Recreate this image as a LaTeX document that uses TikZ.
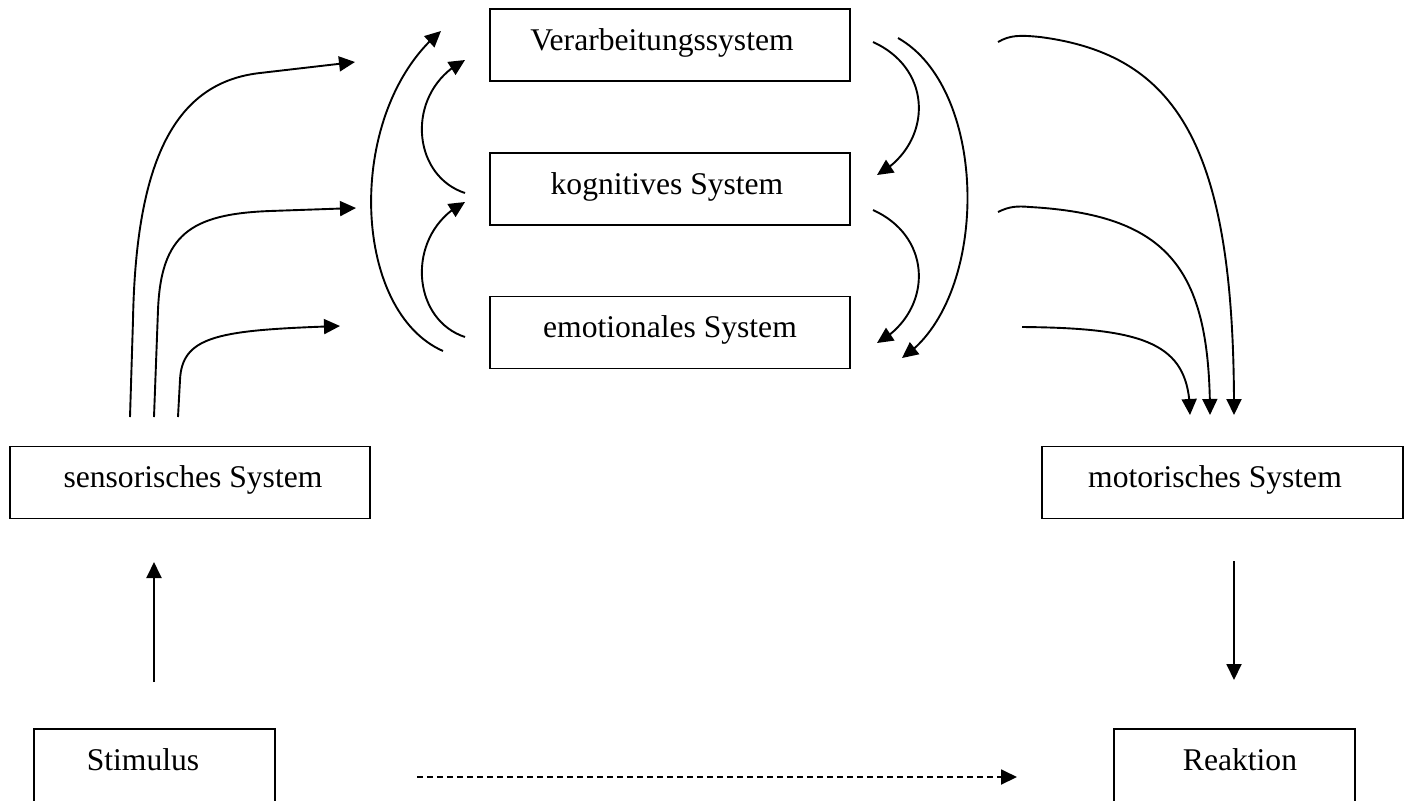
\documentclass[tikz,border=0pt]{standalone}
\usepackage{fontspec}
\setmainfont{Liberation Serif}
\usetikzlibrary{arrows.meta,bending}
\begin{document}
\begin{tikzpicture}[x=0.5pt,y=-0.5pt,
  sysbox/.style={draw, line width=0.9pt, minimum width=180pt, inner sep=0pt,
    text height=20.5pt, text depth=15.5pt, font=\fontsize{15.8pt}{19pt}\selectfont},
  smallbox/.style={sysbox, minimum width=120.5pt, text depth=19.5pt},
  conn/.style={line width=0.95pt, -{Triangle[length=8pt,width=7.5pt,flex]}},
  dashconn/.style={conn, dash pattern=on 3pt off 2pt}
]
\useasboundingbox (0,0) rectangle (1410,800);
\clip (0,0) rectangle (1410,800);

% boxes
\node[sysbox] (verb) at (670,45) {Verarbeitungssystem\hspace*{8pt}};
\node[sysbox] (kog) at (670,189) {kognitives System\hspace*{3pt}};
\node[sysbox] (emo) at (670,332.5) {emotionales System};
\node[sysbox] (sens) at (190,482.5) {\hspace*{3pt}sensorisches System};
\node[sysbox, minimum width=180.5pt] (mot) at (1222.5,482.5) {motorisches System\hspace*{7.5pt}};
\node[smallbox] (stim) at (154.5,769) {Stimulus\hspace*{11.5pt}};
\node[smallbox] (reak) at (1234.5,769) {\hspace*{5.5pt}Reaktion};

% straight connectors
\coordinate (stimT) at (154,682); \coordinate (sensB) at (154,562);
\draw[conn] (stimT) -- (sensB);
\coordinate (motB) at (1234,561); \coordinate (reakT) at (1234,680);
\draw[conn] (motB) -- (reakT);
\coordinate (dashS) at (417,777); \coordinate (dashE) at (1017,777);
\draw[dashconn] (dashS) -- (dashE);

% from sensory system
\coordinate (a0) at (130,417); \coordinate (a1) at (355,62);
\draw[conn] (a0) -- (133,320) .. controls (136,160) and (175,82.5) .. (260,73) -- (a1);
\coordinate (b0) at (154,417); \coordinate (b1) at (356,208);
\draw[conn] (b0) -- (158,310) .. controls (161,235) and (190,214) .. (270,211) -- (b1);
\coordinate (c0) at (178,417); \coordinate (c1) at (340,326);
\draw[conn] (c0) -- (180,380) .. controls (182,335) and (220,330) .. (c1);

% left feedback arcs
\coordinate (d0) at (443,351); \coordinate (d1) at (441,31);
\draw[conn] (d0) .. controls (350,310) and (345,110) .. (d1);
\coordinate (e0) at (465,193); \coordinate (e1) at (465,60);
\draw[conn] (e0) .. controls (410,175) and (405,90) .. (e1);
\coordinate (f0) at (465,337); \coordinate (f1) at (465,202);
\draw[conn] (f0) .. controls (410,319) and (405,232) .. (f1);

% right feedback arcs
\coordinate (g0) at (873,42); \coordinate (g1) at (877,175);
\draw[conn] (g0) .. controls (935,70) and (932,145) .. (g1);
\coordinate (h0) at (873,210); \coordinate (h1) at (877,343);
\draw[conn] (h0) .. controls (935,238) and (932,313) .. (h1);
\coordinate (i0) at (898,38); \coordinate (i1) at (902,358);
\draw[conn] (i0) .. controls (990,90) and (990,300) .. (i1);

% to motor system
\coordinate (j0) at (998,42); \coordinate (j1) at (1234,415);
\draw[conn] (j0) .. controls (1010,35) and (1020,35) .. (1040,37)
  .. controls (1180,55) and (1235,150) .. (j1);
\coordinate (k0) at (998,212); \coordinate (k1) at (1210,415);
\draw[conn] (k0) .. controls (1010,206) and (1018,206) .. (1030,207)
  .. controls (1170,215) and (1210,270) .. (k1);
\coordinate (l0) at (1022,327); \coordinate (l1) at (1190,415);
\draw[conn] (l0) .. controls (1150,328) and (1190,345) .. (l1);
\end{tikzpicture}
\end{document}
